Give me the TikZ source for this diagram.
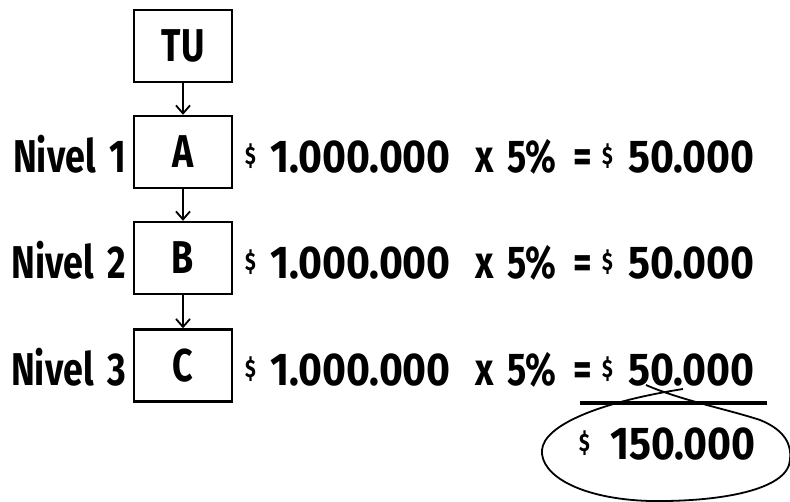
\documentclass[tikz,border=0pt]{standalone}
\usetikzlibrary{arrows.meta}
\usepackage{fontspec}
\newfontfamily\hand[FakeStretch=0.78]{Fira Sans Bold}
\newfontfamily\handnum[FakeStretch=0.89]{Fira Sans Bold}
\newcommand{\dol}{\raisebox{8pt}{\fontsize{25}{25}\selectfont\$}}
\newcommand{\calcrow}{%
  \makebox[28pt][l]{\dol}%
  \makebox[202pt][l]{\hspace{-3pt}\handnum 1.000.000}%
  \makebox[32pt][l]{x}%
  \makebox[66pt][l]{5\%}%
  \makebox[29pt][l]{=}%
  \makebox[26pt][l]{\dol}%
  {\handnum 50.000}}
\begin{document}
\begin{tikzpicture}[x=1pt,y=-1pt,
  box/.style={draw,line width=2.4pt,minimum width=98pt,minimum height=72pt,inner sep=0pt,font=\hand\fontsize{46}{46}\selectfont},
  lbl/.style={inner sep=0pt,font=\hand\fontsize{46}{46}\selectfont},
  arr/.style={line width=1.8pt,-{Straight Barb[length=8pt,width=14pt]}}]
\useasboundingbox (0,0) rectangle (790,502);
\node[box] (tu) at (183,46) {TU};
\node[box] (a) at (183,152) {A};
\node[box] (b) at (183,258) {B};
\node[box] (c) at (183,365.5) {C};
\draw[arr] (tu) -- (a);
\draw[arr] (a) -- (b);
\draw[arr] (b) -- (c);
\node[lbl,anchor=base east] (n1) at (126,173) {Nivel\hspace{5pt} 1};
\node[lbl,anchor=base east] (n2) at (126,279) {Nivel\hspace{5pt} 2};
\node[lbl,anchor=base east] (n3) at (126,386) {Nivel\hspace{5pt} 3};
\node[lbl,anchor=base west] (r1) at (245,173) {\calcrow};
\node[lbl,anchor=base west] (r2) at (245,279) {\calcrow};
\node[lbl,anchor=base west] (r3) at (245,386) {\calcrow};
\coordinate (l1) at (580,403);
\coordinate (l2) at (767,403);
\draw[line width=4pt] (l1) -- (l2);
\node[lbl,anchor=base west] (sum) at (579,460) {\makebox[31pt][l]{\dol}{\handnum 150.000}};
\coordinate (s1) at (646,385);
\coordinate (s2) at (683,389);
\draw[line width=1.8pt] (s1) .. controls (680,400) and (730,410) .. (760,420)
  .. controls (785,430) and (792,445) .. (790,460)
  .. controls (788,490) and (720,502) .. (650,501)
  .. controls (580,499) and (540,475) .. (542,450)
  .. controls (544,425) and (600,402) .. (s2);
\end{tikzpicture}
\end{document}
